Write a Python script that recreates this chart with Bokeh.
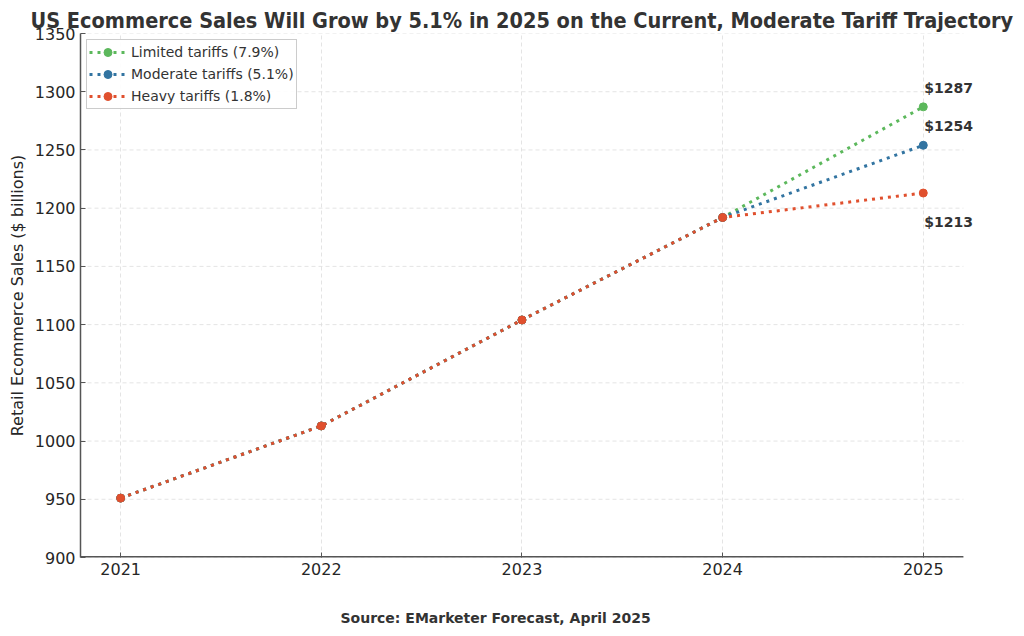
from bokeh.plotting import figure
from bokeh.models import (FixedTicker, Legend, LegendItem, Label, ColumnDataSource, Title)
from bokeh.embed import file_html
from bokeh.resources import INLINE

years = [2021, 2022, 2023, 2024, 2025]
limited = [951, 1013, 1104, 1192, 1287]
moderate = [951, 1013, 1104, 1192, 1254]
heavy = [951, 1013, 1104, 1192, 1213]
series_names = ["Limited tariffs (7.9%)", "Moderate tariffs (5.1%)", "Heavy tariffs (1.8%)"]
colors = ["#5cb85c", "#3274a1", "#e0502e"]
y_ticks = [900, 950, 1000, 1050, 1100, 1150, 1200, 1250, 1300, 1350]

X0, X1 = 2020.8, 2025.2      # visible axis extent
X1_FRAME = 2025.34           # frame extended to the right so value labels are not clipped

p = figure(width=1016, height=633, output_backend="svg", toolbar_location=None,
           x_range=(X0, X1_FRAME), y_range=(900, 1350),
           min_border_left=80, min_border_right=25, min_border_bottom=76, min_border_top=33)
p.title = Title(text="US Ecommerce Sales Will Grow by 5.1% in 2025 on the Current, Moderate Tariff Trajectory",
                align="left", text_font="DejaVu Sans Condensed", text_font_size="21.5px",
                text_font_style="bold", text_color="#333333", standoff=2, offset=-50)
p.outline_line_color = None
p.background_fill_color = "white"
p.border_fill_color = "white"

for ax in (p.xaxis[0], p.yaxis[0]):
    ax.axis_line_color = "#555555"
    ax.axis_line_width = 1.5
    ax.major_tick_line_color = "#555555"
    ax.major_tick_in = 5
    ax.major_tick_out = 0
    ax.minor_tick_line_color = None
    ax.major_label_text_font = "DejaVu Sans"
    ax.major_label_text_font_size = "16px"
    ax.major_label_text_color = "#262626"
p.xaxis.axis_line_color = None

p.xaxis.ticker = FixedTicker(ticks=years)
p.xaxis.major_label_overrides = {y: str(y) for y in years}
p.yaxis.ticker = FixedTicker(ticks=y_ticks)
p.yaxis.major_label_overrides = {v: str(v) for v in y_ticks}
p.yaxis.axis_label = "Retail Ecommerce Sales ($ billions)"
p.yaxis.axis_label_text_font = "DejaVu Sans"
p.yaxis.axis_label_text_font_size = "16px"
p.yaxis.axis_label_text_font_style = "normal"
p.yaxis.axis_label_text_color = "#262626"
p.yaxis.axis_label_standoff = 5

p.xgrid.grid_line_color = "#dddddd"
p.xgrid.grid_line_dash = "4 3"
p.xgrid.grid_line_width = 0.8
p.ygrid.visible = False

# horizontal grid lines, limited to the visible axis extent
p.segment(x0=[X0] * len(y_ticks), x1=[X1] * len(y_ticks), y0=y_ticks, y1=y_ticks,
          line_color="#dddddd", line_dash="4 3", line_width=0.8)
# bottom spine
p.segment(x0=[X0], x1=[X1], y0=[900], y1=[900], line_color="#555555", line_width=3)

items = []
for name, vals, c in zip(series_names, [limited, moderate, heavy], colors):
    src = ColumnDataSource(dict(x=years, y=vals))
    l = p.line("x", "y", source=src, line_color=c, line_width=3, line_dash="3 5")
    m = p.scatter("x", "y", source=src, size=8, fill_color=c, line_color=c)
    items.append(LegendItem(label=name, renderers=[l, m]))

legend = Legend(items=items, location="top_left", label_text_font="DejaVu Sans",
                label_text_font_size="14px", label_text_color="#333333",
                border_line_color="#cccccc", border_line_alpha=1, background_fill_alpha=0.9,
                glyph_width=37, label_height=14, spacing=2, padding=2, margin=6)
p.add_layout(legend)

finals = [limited[-1], moderate[-1], heavy[-1]]
offsets = [11, 11, -21]
for v, off in zip(finals, offsets):
    lab = Label(x=years[-1], y=v, text=f"${v}", x_offset=1, y_offset=off,
                text_font="DejaVu Sans", text_font_size="14px", text_font_style="bold",
                text_color="#333333", text_baseline="bottom" if off > 0 else "top")
    p.add_layout(lab)

src_title = Title(text="\nSource: EMarketer Forecast, April 2025", align="left",
                  text_font="DejaVu Sans", text_font_size="14px", text_font_style="bold",
                  text_color="#333333", text_line_height=1.95, offset=260, standoff=0)
p.add_layout(src_title, "below")

open("out.html", "w").write(file_html(p, INLINE))
